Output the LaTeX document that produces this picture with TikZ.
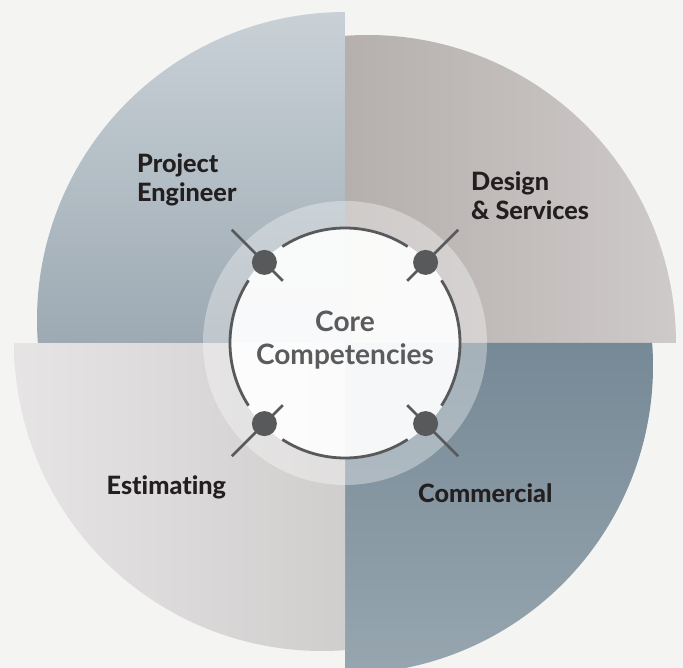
\documentclass[tikz,border=0pt]{standalone}
\usepackage{fontspec}
\setmainfont{Lato}[Ligatures=NoCommon]
\newfontfamily\heavyfont{Lato Heavy}[Ligatures=NoCommon]
\definecolor{bg}{HTML}{F4F4F2}
\definecolor{pingray}{HTML}{58595B}
\definecolor{ink}{HTML}{231F20}
\definecolor{coretext}{HTML}{5A5B5D}
\definecolor{engtop}{HTML}{C9D1D7}
\definecolor{engbot}{HTML}{9DAAB3}
\definecolor{desleft}{HTML}{B5B0AE}
\definecolor{desright}{HTML}{CECAC9}
\definecolor{comtop}{HTML}{768996}
\definecolor{combot}{HTML}{97A6AF}
\definecolor{estleft}{HTML}{E6E4E5}
\definecolor{estright}{HTML}{D0CECD}
\begin{document}
\begin{tikzpicture}[x=1bp,y=1bp,
  spoke/.style={draw=pingray,line width=2.8bp},
  pindot/.style={circle,fill=pingray,inner sep=0pt,minimum size=25bp},
  segtext/.style={font=\fontsize{25.3}{29.4}\selectfont\heavyfont,text=ink,align=left,inner sep=0pt,anchor=base west}]
 \fill[bg] (-345,-325) rectangle (338,343);
 \useasboundingbox (-345,-325) rectangle (338,343);
 % the four quarters
 \shade[top color=engtop,bottom color=engbot] (0,0) -- (-307.14,0) arc[start angle=184.28,end angle=90,radius=308bp] -- cycle;
 \shade[left color=desleft,right color=desright] (0,0) -- (0,307.14) arc[start angle=94.28,end angle=0,radius=308bp] -- cycle;
 \shade[top color=comtop,bottom color=combot] (0,0) -- (307.14,0) arc[start angle=4.28,end angle=-90,radius=308bp] -- cycle;
 \shade[left color=estleft,right color=estright] (0,0) -- (0,-307.14) arc[start angle=274.28,end angle=180,radius=308bp] -- cycle;
 % core
 \fill[white,opacity=0.35] (0,0) circle (142bp);
 \fill[white,opacity=0.9] (0,0) circle (116bp);
 \foreach \a in {45,135,225,315}
 \draw[pingray,line width=2.8bp] (\a+12:115bp) arc[start angle=\a+12,delta angle=66,radius=115bp];
 \foreach \a [count=\i] in {45,135,225,315} {
 \coordinate (in\i) at (\a:88bp);
 \coordinate (out\i) at (\a:160bp);
 \draw[spoke] (in\i) -- (out\i);
 \node[pindot] (pin\i) at (\a:114bp) {};
 }
 \node[font=\fontsize{28.2}{32.3}\selectfont\bfseries,text=coretext,align=center] (core) at (0,3) {Core\\Competencies};
 \node[segtext] (eng) at (-208,141.3) {Project\\Engineer};
 \node[segtext] (des) at (126,123) {Design\\\& Services};
 \node[segtext] (est) at (-238.5,-151) {Estimating};
 \node[segtext] (com) at (73,-159.7) {Commercial};
\end{tikzpicture}
\end{document}
